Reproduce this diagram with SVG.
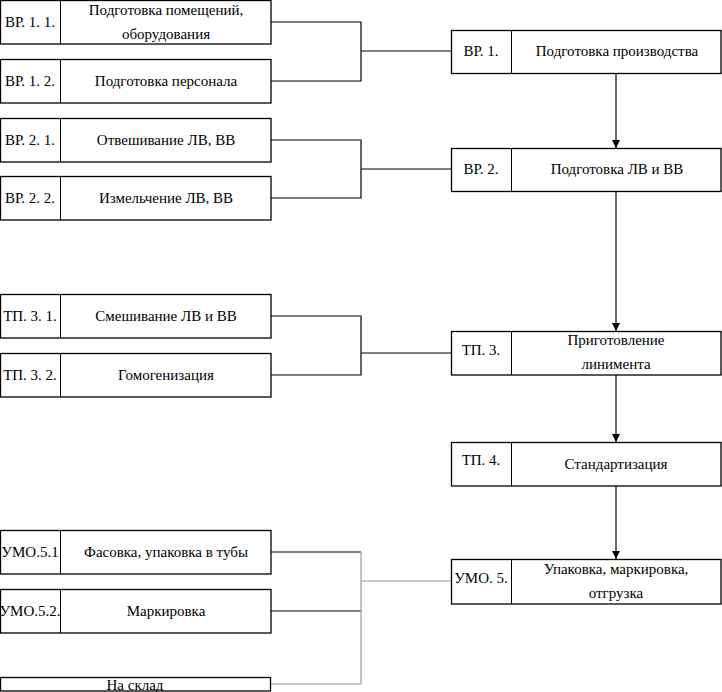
<svg xmlns="http://www.w3.org/2000/svg" width="722" height="692" viewBox="0 0 722 692">
<defs>
<style>
.b{fill:#fff;stroke:#000;stroke-width:1.3}
.d{stroke:#000;stroke-width:1}
.c{fill:none;stroke:#000;stroke-width:1.2}
.g{fill:none;stroke:#999;stroke-width:1.2}
</style>
<marker id="ar" viewBox="0 0 10 10" refX="10" refY="5" markerWidth="8" markerHeight="10" markerUnits="userSpaceOnUse" orient="auto"><path d="M0,0L10,5L0,10z" fill="#000"/></marker>
</defs>
<g id="connectors">
<path class="c" d="M271,22H361V81H271M361,51H451"/>
<path class="c" d="M271,140H361V198H271M361,169H451"/>
<path class="c" d="M271,316H361V375H271M361,353H451"/>
<path class="c" d="M271,552H361M271,611H361"/>
<path class="g" d="M361,552V684H271M361,581H451"/>
<path class="c" d="M616,73V148" marker-end="url(#ar)"/>
<path class="c" d="M616,191V331" marker-end="url(#ar)"/>
<path class="c" d="M616,375V442" marker-end="url(#ar)"/>
<path class="c" d="M616,486V559" marker-end="url(#ar)"/>
</g>
<g font-family="Liberation Serif, DejaVu Serif, serif" font-size="15" text-anchor="middle" dominant-baseline="central" fill="#000">
<g id="n11"><rect class="b" x="0.5" y="0.5" width="270.5" height="43.5"/><line class="d" x1="60.5" y1="0.5" x2="60.5" y2="44"/><text x="30" y="22">ВР. 1. 1.</text><text x="166" y="10">Подготовка помещений,</text><text x="166" y="34">оборудования</text></g>
<g id="n12"><rect class="b" x="0.5" y="59.5" width="270.5" height="43.5"/><line class="d" x1="60.5" y1="59.5" x2="60.5" y2="103"/><text x="30" y="81">ВР. 1. 2.</text><text x="166" y="81">Подготовка персонала</text></g>
<g id="n21"><rect class="b" x="0.5" y="118.5" width="270.5" height="43.5"/><line class="d" x1="60.5" y1="118.5" x2="60.5" y2="162"/><text x="30" y="140">ВР. 2. 1.</text><text x="166" y="140">Отвешивание ЛВ, ВВ</text></g>
<g id="n22"><rect class="b" x="0.5" y="176.5" width="270.5" height="43.5"/><line class="d" x1="60.5" y1="176.5" x2="60.5" y2="220"/><text x="30" y="198">ВР. 2. 2.</text><text x="166" y="198">Измельчение ЛВ, ВВ</text></g>
<g id="n31"><rect class="b" x="0.5" y="294.5" width="270.5" height="43.5"/><line class="d" x1="60.5" y1="294.5" x2="60.5" y2="338"/><text x="30" y="316">ТП. 3. 1.</text><text x="166" y="316">Смешивание ЛВ и ВВ</text></g>
<g id="n32"><rect class="b" x="0.5" y="353.5" width="270.5" height="43.5"/><line class="d" x1="60.5" y1="353.5" x2="60.5" y2="397"/><text x="30" y="375">ТП. 3. 2.</text><text x="166" y="375">Гомогенизация</text></g>
<g id="n51"><rect class="b" x="0.5" y="530.5" width="270.5" height="43.5"/><line class="d" x1="60.5" y1="530.5" x2="60.5" y2="574"/><text x="30" y="552">УМО.5.1</text><text x="166" y="552">Фасовка, упаковка в тубы</text></g>
<g id="n52"><rect class="b" x="0.5" y="589.5" width="270.5" height="43.5"/><line class="d" x1="60.5" y1="589.5" x2="60.5" y2="633"/><text x="30" y="611">УМО.5.2.</text><text x="166" y="611">Маркировка</text></g>
<g id="sklad"><rect class="b" x="0.5" y="677.5" width="270" height="13.5"/><text x="135" y="685">На склад</text></g>
<g id="r1"><rect class="b" x="451.5" y="30.5" width="269.5" height="43"/><line class="d" x1="511.5" y1="30.5" x2="511.5" y2="73.5"/><text x="481" y="51">ВР. 1.</text><text x="617" y="51">Подготовка производства</text></g>
<g id="r2"><rect class="b" x="451.5" y="148.5" width="269.5" height="43"/><line class="d" x1="511.5" y1="148.5" x2="511.5" y2="191.5"/><text x="481" y="169">ВР. 2.</text><text x="617" y="169">Подготовка ЛВ и ВВ</text></g>
<g id="r3"><rect class="b" x="451.5" y="331.5" width="269.5" height="43.5"/><line class="d" x1="511.5" y1="331.5" x2="511.5" y2="375"/><text x="481" y="350">ТП. 3.</text><text x="616" y="340">Приготовление</text><text x="616" y="364">линимента</text></g>
<g id="r4"><rect class="b" x="451.5" y="442.5" width="269.5" height="43.5"/><line class="d" x1="511.5" y1="442.5" x2="511.5" y2="486"/><text x="481" y="460">ТП. 4.</text><text x="616" y="464">Стандартизация</text></g>
<g id="r5"><rect class="b" x="451.5" y="559.5" width="269.5" height="44.5"/><line class="d" x1="511.5" y1="559.5" x2="511.5" y2="604"/><text x="481" y="578">УМО. 5.</text><text x="616" y="569">Упаковка, маркировка,</text><text x="616" y="593">отгрузка</text></g>
</g>
</svg>
